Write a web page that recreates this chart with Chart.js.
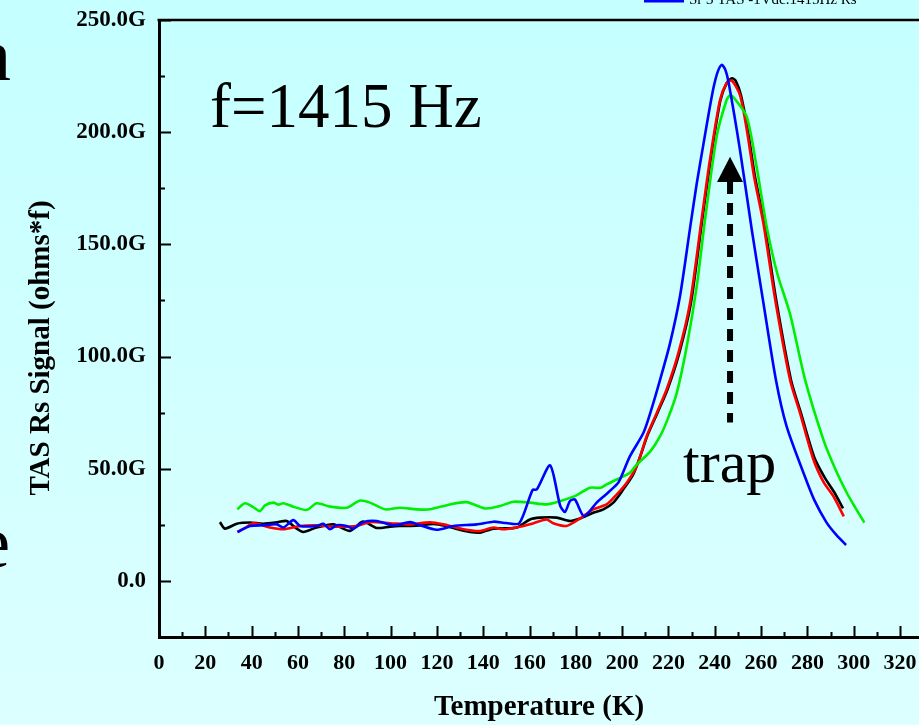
<!DOCTYPE html>
<html>
<head>
<meta charset="utf-8">
<title>TAS Rs Signal</title>
<script src="https://cdn.jsdelivr.net/npm/chart.js@4.4.1/dist/chart.umd.min.js"></script>
<style>
    html, body { margin: 0; padding: 0; }
    body {
        width: 919px;
        height: 725px;
        overflow: hidden;
        background: linear-gradient(#c5ffff, #dcffff);
    }
    canvas { display: block; }
</style>
</head>
<body>
<canvas id="tasChart" width="919" height="725"></canvas>
<script>
// tick labels
const xTicks = [0, 20, 40, 60, 80, 100, 120, 140, 160, 180, 200, 220, 240, 260, 280, 300, 320];
const yTicks = [0, 50, 100, 150, 200, 250];

// signal in units of G (1e9 ohms*f), temperature in K
const tempBlack = [26.3, 28.5, 33.6, 39.3, 45, 51.5, 55.1, 59.5, 62.3, 68.1, 75.3, 82.5, 88, 94, 99.8, 104, 111.3, 118.5, 124, 129, 134.3, 138.6, 144.4, 149, 154.5, 160.2, 164.5, 171.7, 177.5, 181.8, 187.5, 191.9, 196.2, 200.5, 204.8, 208, 211, 215.3, 219.6, 224.7, 229.7, 234.6, 238.2, 242.4, 245.2, 247.4, 249, 251.3, 254.4, 257.4, 261.4, 266.4, 272.9, 277.2, 283, 287.5, 291.6, 295.4];
const sigBlack = [26.2, 23.3, 25.5, 26, 25.5, 26.2, 26.7, 23.3, 21.8, 23.8, 25.2, 22.3, 26.5, 23.6, 24.2, 24.5, 24.6, 25.4, 24.5, 23, 21.8, 21.5, 23.3, 23.4, 23.8, 27.4, 28.2, 28.2, 26.7, 27.8, 30.4, 31.9, 34.9, 40.8, 47.5, 56, 65, 75, 85.3, 101.6, 123.8, 161, 187.6, 214, 222, 224, 223, 216.5, 200, 180, 159.4, 126, 89.7, 74.9, 55, 46, 39.5, 32.3];

const tempRed = [33.8, 37, 40.7, 44, 47.9, 53.7, 60.9, 68.1, 75.3, 85.4, 91.1, 99.8, 108.4, 117, 122.8, 131.4, 138.6, 144.4, 148.7, 154.5, 160.2, 167.4, 170.2, 176, 181.8, 187.5, 193.3, 197.7, 202, 206.3, 210.6, 215, 219.2, 224.3, 229.3, 234.3, 237.9, 242.2, 245, 247.3, 250.9, 254, 257, 261, 266, 272.5, 276.8, 282.6, 287, 291.2, 295.7];
const sigRed = [21.8, 23.5, 25.7, 25, 23.8, 23, 24.5, 24.8, 24.2, 24.5, 26.2, 25.7, 25.2, 26.1, 25.2, 23, 22.2, 23.8, 23, 23.8, 25.2, 27.4, 25.7, 24.5, 27.8, 31.9, 34.1, 38.6, 43.8, 51.2, 64.5, 75, 85.3, 101.6, 123.8, 161, 187.6, 214, 221.7, 223, 216.5, 200, 180, 159.4, 126, 89.7, 74.9, 54.1, 44, 37.8, 28.8];

const tempBlue = [34, 39.3, 45.1, 50.8, 53.7, 58, 60.9, 68.1, 71, 73.8, 76.7, 81, 83.9, 88.3, 94, 101.2, 108.4, 112.7, 119.9, 127.1, 137.2, 144.4, 150, 155.6, 161.3, 163.2, 168.9, 173.2, 175.3, 177.5, 179.6, 183.5, 189, 193, 197.7, 199.1, 203.4, 209.2, 212.8, 216.4, 220.7, 225, 229.3, 232.2, 235, 237.5, 239.5, 241.3, 243, 244.5, 246, 250.9, 256, 261, 266.4, 271, 278.3, 283, 288.3, 292.5, 296.7];
const sigBlue = [21.8, 24.5, 24.8, 25.2, 23.8, 27.1, 24.5, 24.5, 25.5, 23, 24.8, 24.5, 23.3, 26.2, 26.7, 24.8, 26.2, 24.8, 22.8, 24.5, 25.2, 26.4, 25.8, 25.7, 40.5, 40.8, 51.5, 33.7, 30.7, 35.6, 36.3, 28.9, 34.9, 38.5, 43, 45.2, 55.6, 66, 77, 89.7, 106, 127, 157, 177, 194, 209, 220, 227, 230, 228, 222, 192, 156.4, 124, 89.7, 69, 48.2, 36, 26, 20.5, 16];

const tempGreen = [33.8, 37.1, 40.5, 43.6, 45.8, 49.4, 51.5, 53.7, 58, 63.8, 68.1, 73.8, 81, 86.8, 91.1, 97.6, 104, 111.3, 117, 125.7, 132.9, 140.8, 147.3, 153, 160.2, 167.4, 173, 180, 186.1, 190.6, 193.3, 197.7, 203.4, 206, 212, 216.4, 220, 223.6, 227.9, 232.2, 235.8, 240.8, 245, 246.6, 248.5, 253.8, 258, 262.4, 267, 272.5, 279, 286.9, 292, 297, 300.5, 304.6];
const sigGreen = [31.9, 34.6, 33, 31.1, 33.7, 34.9, 34, 34.6, 33.1, 31.6, 34.6, 33.1, 32.6, 35.8, 34.9, 31.9, 32.6, 31.9, 31.9, 34.1, 35.1, 32.3, 33.4, 35.3, 34.9, 34.1, 35.5, 38, 41.5, 41.5, 43, 45.2, 48.2, 51.5, 57.5, 64.5, 73, 83.8, 104.5, 131.2, 161, 198, 214, 216.5, 215, 206.9, 185, 158, 137, 119, 89.7, 63, 50, 39.3, 33, 26];

const serif = "'Liberation Serif', 'Times New Roman', serif";

function toPoints(xs, ys) {
    return xs.map((x, i) => ({ x: x, y: ys[i] }));
}

function line(label, xs, ys, color) {
    return {
        label: label,
        data: toPoints(xs, ys),
        borderColor: color,
        borderWidth: 2.6,
        pointRadius: 0,
        fill: false,
        tension: 0.25,
    };
}

// inward ticks, top frame line, text notes and the trap arrow
const decorations = {
    id: "decorations",
    afterDraw(chart) {
        const ctx = chart.ctx;
        const area = chart.chartArea;
        const xs = chart.scales.x;
        const ys = chart.scales.y;

        ctx.save();
        ctx.strokeStyle = "#000";
        ctx.lineWidth = 2;
        ctx.beginPath();
        xTicks.forEach((v) => {
            const px = Math.round(xs.getPixelForValue(v)) + 0.5;
            ctx.moveTo(px, area.bottom);
            ctx.lineTo(px, area.bottom - 11);
            const mx = Math.round(xs.getPixelForValue(v + 10)) + 0.5;
            ctx.moveTo(mx, area.bottom);
            ctx.lineTo(mx, area.bottom - 5);
        });
        yTicks.forEach((v) => {
            const py = Math.round(ys.getPixelForValue(v)) + 0.5;
            ctx.moveTo(area.left, py);
            ctx.lineTo(area.left + 12, py);
            if (v < 250) {
                const my = Math.round(ys.getPixelForValue(v + 25)) + 0.5;
                ctx.moveTo(area.left, my);
                ctx.lineTo(area.left + 6, my);
            }
        });
        ctx.stroke();

        // top frame
        ctx.lineWidth = 2.5;
        ctx.beginPath();
        ctx.moveTo(area.left - 1.5, area.top);
        ctx.lineTo(area.right, area.top);
        ctx.stroke();

        // legend entry cut off at the top
        ctx.strokeStyle = "#0000ff";
        ctx.lineWidth = 3;
        ctx.beginPath();
        ctx.moveTo(644, 1);
        ctx.lineTo(684, 1);
        ctx.stroke();
        ctx.fillStyle = "#000";
        ctx.font = "15px " + serif;
        ctx.textAlign = "left";
        ctx.textBaseline = "alphabetic";
        ctx.fillText("Sr 3 TAS -1Vdc.1415Hz Rs", 689, 4);

        // y axis title
        ctx.save();
        ctx.translate(42, 348);
        ctx.rotate(-Math.PI / 2);
        ctx.font = "bold 29px " + serif;
        ctx.textAlign = "center";
        ctx.textBaseline = "middle";
        ctx.fillText("TAS Rs Signal (ohms*f)", 0, 0);
        ctx.restore();

        // notes
        ctx.textAlign = "left";
        ctx.font = "63px " + serif;
        ctx.fillText("f=1415 Hz", xs.getPixelForValue(22), ys.getPixelForValue(202.5));
        ctx.font = "60px " + serif;
        ctx.fillText("trap", xs.getPixelForValue(226.3), ys.getPixelForValue(44));

        // dashed arrow
        const ax = xs.getPixelForValue(246.6);
        const tipY = ys.getPixelForValue(189);
        const baseY = ys.getPixelForValue(177.8);
        const tailY = ys.getPixelForValue(70.6);
        ctx.strokeStyle = "#000";
        ctx.lineWidth = 6;
        ctx.setLineDash([12, 9]);
        ctx.beginPath();
        ctx.moveTo(ax, baseY);
        ctx.lineTo(ax, tailY);
        ctx.stroke();
        ctx.setLineDash([]);
        ctx.beginPath();
        ctx.moveTo(ax, tipY);
        ctx.lineTo(ax - 13, baseY);
        ctx.lineTo(ax + 13, baseY);
        ctx.closePath();
        ctx.fill();

        // pieces of slide text at the left edge
        ctx.font = "74px " + serif;
        ctx.textAlign = "right";
        ctx.fillText("n", 11, 80);
        ctx.fillText("e", 10, 567);
        ctx.restore();
    },
};

new Chart(document.getElementById("tasChart"), {
    type: "line",
    data: {
        datasets: [
            line("Sr 3 TAS -1Vdc.1415Hz Rs", tempBlue, sigBlue, "#0000ff"),
            line("green", tempGreen, sigGreen, "#00ee00"),
            line("red", tempRed, sigRed, "#ff0000"),
            line("black", tempBlack, sigBlack, "#000000"),
        ],
    },
    options: {
        responsive: false,
        animation: false,
        devicePixelRatio: 1,
        layout: { padding: { top: 20, right: 0, bottom: 0, left: 0 } },
        plugins: {
            legend: { display: false },
            tooltip: { enabled: false },
        },
        scales: {
            x: {
                type: "linear",
                position: "bottom",
                min: 0,
                max: 328.2,
                grid: { display: false, drawTicks: false },
                border: { display: true, color: "#000", width: 3 },
                ticks: {
                    font: { family: serif, weight: "bold", size: 22 },
                    color: "#000",
                    padding: 13,
                    maxRotation: 0,
                    autoSkip: false,
                },
                title: {
                    display: true,
                    text: "Temperature (K)",
                    color: "#000",
                    font: { family: serif, weight: "bold", size: 29 },
                    padding: 0,
                },
                afterBuildTicks: (scale) => {
                    scale.ticks = xTicks.map((v) => ({ value: v }));
                },
                afterFit: (scale) => {
                    scale.height = 88;
                    scale.paddingLeft = 0;
                    scale.paddingRight = 0;
                },
            },
            y: {
                type: "linear",
                min: -25,
                max: 250,
                grid: { display: false, drawTicks: false },
                border: { display: true, color: "#000", width: 3 },
                ticks: {
                    font: { family: serif, weight: "bold", size: 23 },
                    color: "#000",
                    padding: 13,
                    callback: (v) => (v === 0 ? "0.0" : v.toFixed(1) + "G"),
                },
                afterBuildTicks: (scale) => {
                    scale.ticks = yTicks.map((v) => ({ value: v }));
                },
                afterFit: (scale) => {
                    scale.width = 159;
                    scale.paddingTop = 0;
                    scale.paddingBottom = 0;
                },
            },
        },
    },
    plugins: [decorations],
});
</script>
</body>
</html>
